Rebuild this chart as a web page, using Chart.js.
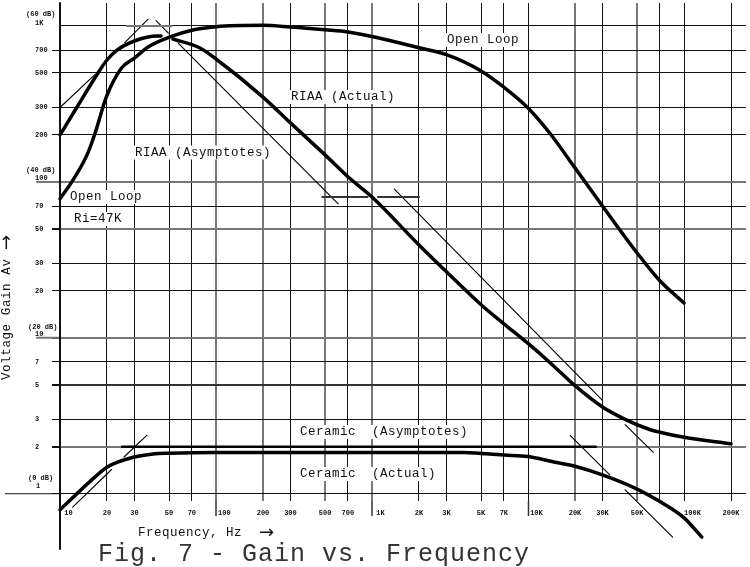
<!DOCTYPE html>
<html>
<head>
<meta charset="utf-8">
<title>Fig. 7 - Gain vs. Frequency</title>
<script src="https://cdn.jsdelivr.net/npm/chart.js@4/dist/chart.umd.min.js"></script>
<style>
html, body { margin: 0; padding: 0; background: #fff; overflow: hidden; }
canvas { display: block; }
</style>
</head>
<body>
<canvas id="chart" width="750" height="567"></canvas>
<script>
// tick values and labels
const xTicks = [10, 20, 30, 50, 70, 100, 200, 300, 500, 700, 1000, 2000, 3000, 5000, 7000, 10000, 20000, 30000, 50000, 70000, 100000, 200000];
const xLabels = ['10', '20', '30', '50', '70', '100', '200', '300', '500', '700', '1K', '2K', '3K', '5K', '7K', '10K', '20K', '30K', '50K', '', '100K', '200K'];
const yTicks = [1000, 700, 500, 300, 200, 100, 70, 50, 30, 20, 10, 7, 5, 3, 2, 1];
const yLabels = ['', '700', '500', '300', '200', '', '70', '50', '30', '20', '', '7', '5', '3', '2', ''];

// thick curves
const riaaLowFreq = [10, 12.8, 17.2, 20, 23.2, 30, 41.9, 44.4];
const riaaLowGain = [200, 300, 485, 605, 700, 801, 862, 862];

const openLoopFreq = [10, 11.9, 14.9, 16.8, 19.8, 24.8, 30, 36.7, 50.7, 71, 100, 200, 300, 500, 700, 1000, 2000, 3000, 5000, 7000, 10000, 13800, 20000, 30000, 50000, 70000, 100000];
const openLoopGain = [78, 100, 149, 206, 350, 538, 623, 733, 850, 943, 990, 1010, 985, 945, 915, 855, 725, 655, 515, 405, 298, 205, 123, 70, 35, 23.2, 16.7];

const riaaFreq = [53, 79, 100, 200, 300, 500, 700, 1000, 2000, 3000, 5000, 7000, 10000, 13900, 20000, 30000, 41900, 59000, 70000, 100000, 200000];
const riaaGain = [825, 722, 614, 350, 239, 149, 108, 80, 39.4, 26.5, 16.3, 12.3, 9.2, 6.9, 4.93, 3.6, 3.0, 2.6, 2.48, 2.3, 2.09];

const ceramicFreq = [10, 13.1, 15.6, 20, 30, 39.5, 50, 100, 1000, 3900, 5000, 7000, 10000, 14200, 20000, 30000, 50000, 70000, 100000, 130000];
const ceramicGain = [0.79, 1.02, 1.2, 1.48, 1.72, 1.8, 1.82, 1.84, 1.84, 1.84, 1.81, 1.77, 1.73, 1.61, 1.5, 1.32, 1.07, 0.89, 0.7, 0.527];

// ceramic asymptote, heavy flat part
const ceramicFlatFreq = [25, 27200];
const ceramicFlatGain = [2, 2];

// thin asymptote pieces, null breaks the line
const asymFreq = [10, 16.8, 16.8, 26, 36.7, 36.7, 41.3, 49.5, 49.5, 57, 607, 607, 1390, 30000, 30000, 41900, 63500, 63500, 18600, 33400, 33400, 41900, 84500, 84500, 12.06, 21.4, 21.4, 25.7, 36];
const asymGain = [300, 490, null, 781, 1105, null, 1083, 899, null, 778, 72.2, null, 90, 3.97, null, 2.77, 1.84, null, 2.37, 1.32, null, 1.06, 0.527, null, 0.82, 1.43, null, 1.72, 2.37];

// short flat asymptotes, medium weight
const stubFreq = [480, 935, 935, 1090, 2000];
const stubGain = [80, 80, null, 80, 80];
const topStubFreq = [26.9, 52];
const topStubGain = [1000, 1000];

// axis lines that run past the plot area
const axisFreq = [10, 10];
const axisGain = [1404, 0.442];
const unityFreq = [4.44, 10];
const unityGain = [1, 1];
const decadeStubFreq = [7.12, 10, 10, 7.12, 10];
const decadeStubGain = [100, 100, null, 10, 10];

const decadeLabels = [
    { text: '(60 dB)', x: 26, y: 14.5 }, { text: '1K', x: 35, y: 23 },
    { text: '(40 dB)', x: 26, y: 170 }, { text: '100', x: 35, y: 178 },
    { text: '(20 dB)', x: 28, y: 327 }, { text: '10', x: 35, y: 334 },
    { text: '(0 dB)', x: 28, y: 478 }, { text: '1', x: 36, y: 486 }
];

const notes = [
    { text: 'Open Loop', x: 447, y: 40 },
    { text: 'RIAA (Actual)', x: 291, y: 97 },
    { text: 'RIAA (Asymptotes)', x: 135, y: 152.5 },
    { text: 'Open Loop', x: 70, y: 197 },
    { text: 'Ri=47K', x: 74, y: 219 },
    { text: 'Ceramic  (Asymptotes)', x: 300, y: 432 },
    { text: 'Ceramic  (Actual)', x: 300, y: 474 }
];

const heavyGrid = [100, 200, 500, 1000, 20000, 50000];
const heavyGridY = [100, 50, 10, 2];
const midGridY = [5];
const longTicks = [100, 1000, 10000];

const pts = (xs, ys) => xs.map((x, i) => ({ x, y: ys[i] }));

function line(data, width, color) {
    return { data, borderColor: color || '#000', borderWidth: width, pointRadius: 0, tension: 0, clip: false, spanGaps: false, borderCapStyle: 'round', borderJoinStyle: 'round' };
}

function curve(data) {
    return { ...line(data, 3.5), cubicInterpolationMode: 'monotone' };
}

function text(ctx, str, x, y, font, spacing) {
    ctx.font = font;
    ctx.letterSpacing = spacing + 'px';
    ctx.fillText(str, x, y);
}

// all the free text sits under the curves, with a white box like the original
const textPlugin = {
    id: 'figureText',
    beforeDatasetsDraw(chart) {
        const ctx = chart.ctx;
        ctx.save();
        ctx.textBaseline = 'middle';
        ctx.textAlign = 'left';
        notes.forEach(n => {
            ctx.font = '12.5px "Liberation Mono"';
            ctx.letterSpacing = '0.5px';
            const w = ctx.measureText(n.text).width;
            ctx.fillStyle = '#fff';
            ctx.fillRect(n.x - 1, n.y - 7, w + 2, 14);
            ctx.fillStyle = '#111';
            ctx.fillText(n.text, n.x, n.y);
        });
        ctx.fillStyle = '#111';
        decadeLabels.forEach(d => text(ctx, d.text, d.x, d.y, 'bold 7px "Liberation Mono"', 0));

        text(ctx, 'Frequency, Hz', 138, 533, '12.5px "Liberation Mono"', 0.5);
        text(ctx, '\u2192', 259, 533, '18px "DejaVu Sans"', 0);
        ctx.fillStyle = '#333';
        text(ctx, 'Fig. 7 - Gain vs. Frequency', 98, 554, '25px "Liberation Mono"', 1);

        ctx.fillStyle = '#111';
        ctx.translate(7, 380);
        ctx.rotate(-Math.PI / 2);
        text(ctx, 'Voltage Gain Av', 0, 0, '12.5px "Liberation Mono"', 0.6);
        text(ctx, '\u2192', 130, 0, '18px "DejaVu Sans"', 0);
        ctx.restore();
    }
};

new Chart(document.getElementById('chart'), {
    type: 'line',
    data: {
        datasets: [
            line(pts(axisFreq, axisGain), 2, '#111'),
            line(pts(unityFreq, unityGain), 1, '#111'),
            line(pts(decadeStubFreq, decadeStubGain), 2, '#777'),
            line(pts(topStubFreq, topStubGain), 2, '#777'),
            line(pts(stubFreq, stubGain), 2, '#333'),
            line(pts(asymFreq, asymGain), 1.1, '#000'),
            line(pts(ceramicFlatFreq, ceramicFlatGain), 2.5),
            curve(pts(riaaLowFreq, riaaLowGain)),
            curve(pts(openLoopFreq, openLoopGain)),
            curve(pts(riaaFreq, riaaGain)),
            curve(pts(ceramicFreq, ceramicGain))
        ]
    },
    options: {
        responsive: false,
        animation: false,
        devicePixelRatio: 1,
        layout: { padding: { left: 35, right: 4, top: 3, bottom: 0 } },
        plugins: { legend: { display: false }, tooltip: { enabled: false }, title: { display: false } },
        scales: {
            x: {
                type: 'logarithmic',
                min: 10,
                max: 249500,
                afterFit: s => { s.height = 66; s.paddingLeft = 0; s.paddingRight = 0; },
                afterBuildTicks: s => { s.ticks = xTicks.map(value => ({ value })); },
                border: { display: false },
                grid: {
                    color: c => heavyGrid.includes(c.tick.value) ? '#777' : '#111',
                    lineWidth: c => heavyGrid.includes(c.tick.value) ? 2 : 1,
                    tickColor: c => longTicks.includes(c.tick.value) ? '#333' : 'transparent',
                    tickWidth: 1.5,
                    tickLength: 15
                },
                ticks: {
                    autoSkip: false,
                    maxRotation: 0,
                    padding: -6.5,
                    color: '#111',
                    font: { family: 'Liberation Mono', size: 7, weight: 'bold' },
                    callback: v => {
                        const label = xLabels[xTicks.indexOf(v)];
                        // decade labels sit to the right of their long tick
                        return (v === 10 || longTicks.includes(v) || v === 100000) ? '    ' + label : label;
                    }
                }
            },
            y: {
                type: 'logarithmic',
                min: 0.898,
                max: 1404,
                afterFit: s => { s.width = 25; s.paddingTop = 0; s.paddingBottom = 0; },
                afterBuildTicks: s => { s.ticks = yTicks.map(value => ({ value })); },
                border: { display: false },
                grid: {
                    color: c => heavyGridY.includes(c.tick.value) ? '#777' : midGridY.includes(c.tick.value) ? '#333' : '#111',
                    lineWidth: c => heavyGridY.includes(c.tick.value) ? 2 : midGridY.includes(c.tick.value) ? 2 : 1,
                    tickColor: c => c.tick.value === 1000 ? 'transparent' : '#111',
                    tickLength: 8
                },
                ticks: {
                    autoSkip: false,
                    crossAlign: 'far',
                    color: '#111',
                    font: { family: 'Liberation Mono', size: 7, weight: 'bold' },
                    callback: v => yLabels[yTicks.indexOf(v)]
                }
            }
        }
    },
    plugins: [textPlugin]
});
</script>
</body>
</html>
